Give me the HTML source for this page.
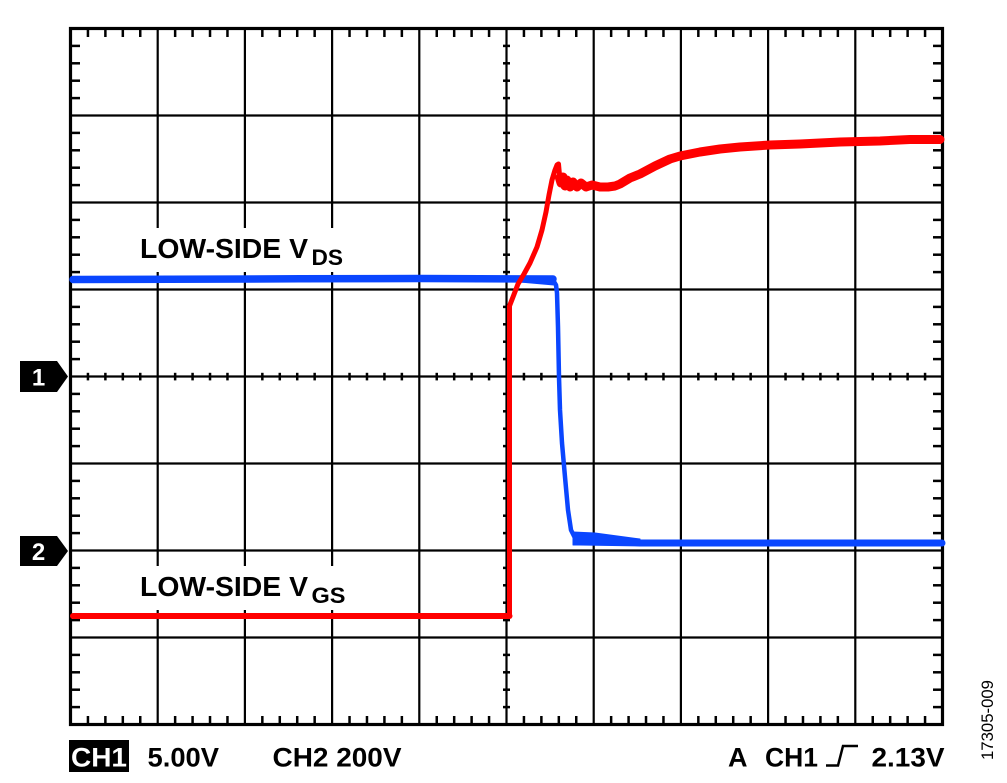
<!DOCTYPE html>
<html><head><meta charset="utf-8"><style>
html,body{margin:0;padding:0;background:#fff;}
svg{display:block;}
text{font-family:"Liberation Sans",Arial,sans-serif;}
</style></head><body>
<svg width="1007" height="783" viewBox="0 0 1007 783" xmlns="http://www.w3.org/2000/svg">
<rect width="1007" height="783" fill="#fff"/>
<g stroke="#000" stroke-width="2.2" fill="none">
<line x1="157.7" y1="28.5" x2="157.7" y2="724.5"/>
<line x1="244.9" y1="28.5" x2="244.9" y2="724.5"/>
<line x1="332.1" y1="28.5" x2="332.1" y2="724.5"/>
<line x1="419.3" y1="28.5" x2="419.3" y2="724.5"/>
<line x1="506.5" y1="28.5" x2="506.5" y2="724.5"/>
<line x1="593.7" y1="28.5" x2="593.7" y2="724.5"/>
<line x1="680.9" y1="28.5" x2="680.9" y2="724.5"/>
<line x1="768.1" y1="28.5" x2="768.1" y2="724.5"/>
<line x1="855.3" y1="28.5" x2="855.3" y2="724.5"/>
<line x1="70.5" y1="115.5" x2="942.5" y2="115.5"/>
<line x1="70.5" y1="202.5" x2="942.5" y2="202.5"/>
<line x1="70.5" y1="289.5" x2="942.5" y2="289.5"/>
<line x1="70.5" y1="376.5" x2="942.5" y2="376.5"/>
<line x1="70.5" y1="463.5" x2="942.5" y2="463.5"/>
<line x1="70.5" y1="550.5" x2="942.5" y2="550.5"/>
<line x1="70.5" y1="637.5" x2="942.5" y2="637.5"/>
</g>
<g id="ticks" stroke="#000" stroke-width="2.5"></g>
<rect x="70.5" y="28.5" width="872" height="696" fill="none" stroke="#000" stroke-width="3.2"/>
<script>
(function(){
var g=document.getElementById('ticks');var ns='http://www.w3.org/2000/svg';
function L(a,b,c,d){var l=document.createElementNS(ns,'line');l.setAttribute('x1',a);l.setAttribute('y1',b);l.setAttribute('x2',c);l.setAttribute('y2',d);g.appendChild(l);}
var dx=87.2/5,dy=87/5;
for(var j=1;j<50;j++){if(j%5==0)continue;var x=70.5+dx*j;L(x,30,x,37);L(x,723,x,716);L(x,372.8,x,380.4);}
for(var j=1;j<40;j++){if(j%5==0)continue;var y=28.5+dy*j;L(72,y,80,y);L(941,y,933,y);L(503,y,510,y);}
})();
</script>
<rect x="132" y="228" width="218" height="44" fill="#fff"/>
<rect x="132" y="566" width="220" height="44" fill="#fff"/>
<text x="140" y="258" font-size="28" font-weight="bold" textLength="168" lengthAdjust="spacingAndGlyphs">LOW-SIDE V</text>
<text x="311.5" y="265" font-size="22" font-weight="bold" textLength="31.5" lengthAdjust="spacingAndGlyphs">DS</text>
<text x="140" y="596" font-size="28" font-weight="bold" textLength="168" lengthAdjust="spacingAndGlyphs">LOW-SIDE V</text>
<text x="311.5" y="603" font-size="22" font-weight="bold" textLength="34" lengthAdjust="spacingAndGlyphs">GS</text>
<!-- blue trace -->
<g fill="none" stroke="#0a46ff" stroke-linejoin="round" stroke-linecap="round">
<path d="M73,279.5 L300,278.8 L420,278.5 L553,279" stroke-width="7.5"/>
<path d="M520,277 L553,277 L554,284 L520,281 Z" fill="#0a46ff" stroke-width="3"/>
<path d="M553,280 L556,285 L557,293 L558,327 L559,377 L560,410 L562,443 L565,477 L568,510 L571,530 L575,538 L585,540 L620,542 L660,543" stroke-width="4.5"/>
<path d="M580,542 L640,543 L942,543" stroke-width="7"/>
<path d="M573,532 L595,533 L640,539 L640,545 L573,545 Z" fill="#0a46ff" stroke-width="1"/>
</g>
<!-- red trace -->
<g fill="none" stroke="#ff0000" stroke-linejoin="round" stroke-linecap="round">
<path d="M73,616 L509.5,616" stroke-width="6"/>
<path d="M509.5,616 L509.5,306 L513,297 L518,284 L524,274 L530,263 L537,247 L542,230 L546,212 L549,195 L552,180 L555,170 L557,165 L558.5,164 L559.5,175" stroke-width="5"/>
<path d="M559.5,178 L561,183 L563,177 L565,186 L567,180 L570,187 L573,182 L577,187 L581,183 L586,187 L592,185 L600,187 L608,187 L615,186 L620,184 L630,178 L640,174 L655,166 L670,159 L680,156 L700,152 L720,149 L740,147 L770,145 L800,144 L840,142 L880,141 L910,139.5 L940,139.5" stroke-width="9"/>
</g>
<!-- channel markers -->
<path d="M20,361 L57,361 L68,376.5 L57,392 L20,392 Z" fill="#000"/>
<text x="38.5" y="385.5" font-size="24" font-weight="bold" fill="#fff" text-anchor="middle">1</text>
<path d="M20,536 L57,536 L68,551 L57,566 L20,566 Z" fill="#000"/>
<text x="38.5" y="560" font-size="24" font-weight="bold" fill="#fff" text-anchor="middle">2</text>
<!-- bottom status -->
<rect x="69" y="740" width="60" height="32" fill="#000"/>
<text x="71" y="766.5" font-size="27" font-weight="bold" fill="#fff" textLength="56" lengthAdjust="spacingAndGlyphs">CH1</text>
<text x="147.5" y="766.5" font-size="27" font-weight="bold" textLength="71.5" lengthAdjust="spacingAndGlyphs">5.00V</text>
<text x="272.5" y="766.5" font-size="27" font-weight="bold" textLength="129" lengthAdjust="spacingAndGlyphs">CH2 200V</text>
<text x="728" y="766.5" font-size="27" font-weight="bold">A</text>
<text x="765" y="766.5" font-size="27" font-weight="bold" textLength="53" lengthAdjust="spacingAndGlyphs">CH1</text>
<path d="M826,765.5 L838,765.5 L843,746 L858,746" fill="none" stroke="#000" stroke-width="2.5"/>
<text x="871.5" y="766.5" font-size="27" font-weight="bold" textLength="73" lengthAdjust="spacingAndGlyphs">2.13V</text>
<text transform="translate(993,720) rotate(-90)" font-size="17" text-anchor="middle" textLength="80" lengthAdjust="spacingAndGlyphs">17305-009</text>
</svg>
</body></html>
